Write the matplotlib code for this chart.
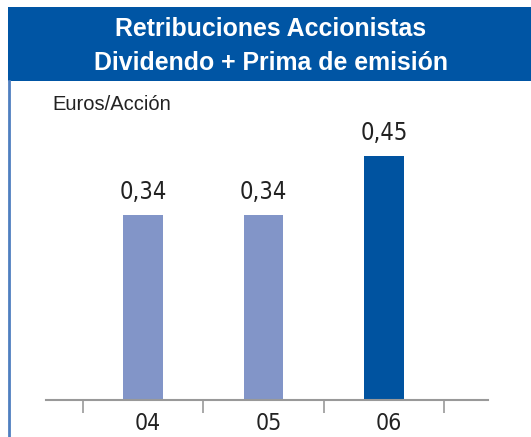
import matplotlib.pyplot as plt
import matplotlib.transforms as mtransforms
from matplotlib.patches import Rectangle

years = ['04', '05', '06']
values = [0.34, 0.34, 0.45]
labels = ['0,34', '0,34', '0,45']
colors = ['#8295c8', '#8295c8', '#0053a0']

W, H = 531, 437
fig = plt.figure(figsize=(W / 100, H / 100), dpi=100)

narrow = ['DejaVu Sans']

# header band and left border
fig.patches.append(Rectangle((8 / W, 1 - 81 / H), 1, 74 / H, transform=fig.transFigure,
                             facecolor='#0055a4', edgecolor='none'))
fig.add_artist(plt.Line2D([8.5 / W, 8.5 / W], [0, 1 - 81 / H], transform=fig.transFigure,
                          color='#4f7fc0', lw=2))
fig.text(271 / W, 1 - 29 / H, 'Retribuciones Accionistas', color='white',
         fontsize=17.9, fontweight='bold', ha='center', va='center', family='Liberation Sans')
fig.text(271 / W, 1 - 63 / H, 'Dividendo + Prima de emisión', color='white',
         fontsize=17.9, fontweight='bold', ha='center', va='center', family='Liberation Sans')
fig.text(52 / W, 1 - 105 / H, 'Euros/Acción', color='#222222', fontsize=14.5,
         ha='left', va='center', family='Liberation Sans')

# plot area
ax = fig.add_axes([46 / W, (H - 400) / H, 442 / W, 271.5 / H])
x = list(range(len(years)))
ax.bar(x, values, width=0.33, color=colors)
for xi, v, lab in zip(x, values, labels):
    ax.annotate(lab, (xi, v), xytext=(0, 8), textcoords='offset points',
                ha='center', va='bottom', fontsize=17, color='#222222', family=narrow,
                stretch='condensed')

ax.set_xlim(-0.805, 2.863)
ax.set_ylim(0, 0.5)
ax.set_yticks([])
for s in ['top', 'right', 'left']:
    ax.spines[s].set_visible(False)
ax.spines['bottom'].set_color('#999999')
ax.spines['bottom'].set_linewidth(1.5)

ax.set_xticks(x)
ax.set_xticklabels(years, fontsize=16.5, color='#222222', family=narrow, stretch='condensed')
ax.set_xticks([-0.5, 0.5, 1.5, 2.5], minor=True)
ax.tick_params(axis='x', which='major', length=0, pad=9)
ax.tick_params(axis='x', which='minor', length=9.5, width=1.2, color='#999999')
offset = mtransforms.ScaledTranslation(5 / 100, 0, fig.dpi_scale_trans)
for t in ax.get_xticklabels():
    t.set_transform(t.get_transform() + offset)

fig.savefig('out.png', dpi=100)
